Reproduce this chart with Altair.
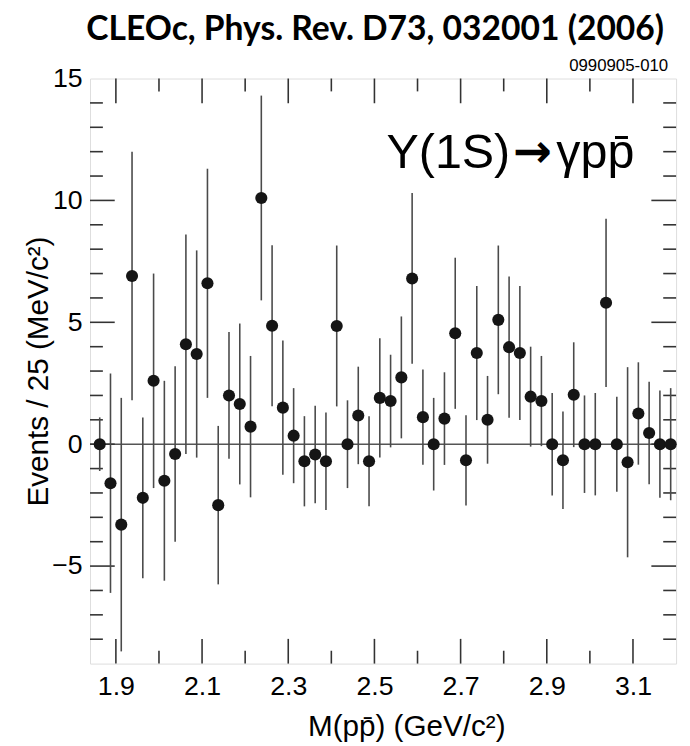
import pandas as pd
import altair as alt

# bin centres, GeV/c^2 (25 MeV bins)
mass = [1.8625, 1.8875, 1.9125, 1.9375, 1.9625, 1.9875, 2.0125, 2.0375, 2.0625,
        2.0875, 2.1125, 2.1375, 2.1625, 2.1875, 2.2125, 2.2375, 2.2625, 2.2875,
        2.3125, 2.3375, 2.3625, 2.3875, 2.4125, 2.4375, 2.4625, 2.4875, 2.5125,
        2.5375, 2.5625, 2.5875, 2.6125, 2.6375, 2.6625, 2.6875, 2.7125, 2.7375,
        2.7625, 2.7875, 2.8125, 2.8375, 2.8625, 2.8875, 2.9125, 2.9375, 2.9625,
        2.9875, 3.0125, 3.0375, 3.0625, 3.0875, 3.1125, 3.1375, 3.1625, 3.1875]
events = [0.0, -1.6, -3.3, 6.9, -2.2, 2.6, -1.5, -0.4, 4.1, 3.7, 6.6, -2.5, 2.0,
          1.65, 0.72, 10.1, 4.86, 1.5, 0.35, -0.7, -0.42, -0.7, 4.85, 0.0, 1.18,
          -0.7, 1.9, 1.77, 2.74, 6.8, 1.11, 0.0, 1.05, 4.55, -0.66, 3.74, 1.0,
          5.1, 3.98, 3.74, 1.95, 1.77, 0.0, -0.66, 2.03, 0.0, 0.0, 5.8, 0.0,
          -0.74, 1.26, 0.46, 0.0, 0.0]
err = [1.1, 4.5, 5.2, 5.1, 3.3, 4.4, 4.1, 3.6, 4.5, 4.25, 4.7, 3.25, 2.6,
       3.3, 2.9, 4.2, 3.3, 2.75, 1.95, 1.85, 2.0, 2.0, 3.3, 1.8, 2.0,
       1.85, 2.45, 1.9, 2.5, 3.5, 1.95, 1.9, 1.9, 3.1, 1.85, 2.75, 1.8,
       3.05, 2.9, 2.75, 2.05, 1.85, 2.1, 2.0, 2.15, 2.0, 2.1, 3.45, 1.95,
       3.9, 2.1, 2.1, 2.2, 2.3]

x_major = [1.9, 2.1, 2.3, 2.5, 2.7, 2.9, 3.1]
x_minor = [2.0, 2.2, 2.4, 2.6, 2.8, 3.0]
y_major = [-5, 0, 5, 10]
y_minor = [-8, -7, -6, -4, -3, -2, -1, 1, 2, 3, 4, 6, 7, 8, 9, 11, 12, 13, 14]

W, H = 593, 592
FONT = "Liberation Sans"

df = pd.DataFrame({"m": mass, "n": events, "e": err})
df["lo"] = df.n - df.e
df["hi"] = df.n + df.e

xs = alt.Scale(domain=[1.84, 3.2], nice=False, zero=False)
ys = alt.Scale(domain=[-9, 15], nice=False, zero=False)

base = alt.Chart(df)

bars = base.mark_rule(color="#4a4a4a", strokeWidth=1.6).encode(
    x=alt.X("m:Q", scale=xs,
            axis=alt.Axis(values=x_major, format=".1f", ticks=False, domain=False, grid=False,
                          labelFontSize=27, labelFont=FONT, labelColor="black", labelPadding=10,
                          title="M(pp\u0304) (GeV/c\u00b2)", titleFont=FONT, titleFontSize=30,
                          titleFontWeight="normal", titleColor="black",
                          titleX=320, titleY=73, titleBaseline="alphabetic")),
    y=alt.Y("lo:Q", scale=ys,
            axis=alt.Axis(values=[-5, 0, 5, 10, 15], ticks=False, domain=False, grid=False,
                          labelFontSize=27, labelFont=FONT, labelColor="black", labelPadding=8,
                          title="Events / 25 (MeV/c\u00b2)", titleFont=FONT, titleFontSize=30,
                          titleFontWeight="normal", titleColor="black",
                          titleX=-43, titleBaseline="alphabetic")),
    y2="hi:Q",
)

dots = base.mark_circle(size=150, color="#151515", opacity=1).encode(
    x=alt.X("m:Q", scale=xs), y=alt.Y("n:Q", scale=ys))

zero = alt.Chart(pd.DataFrame({"z": [0]})).mark_rule(color="#555555", strokeWidth=1.6).encode(
    y=alt.Y("z:Q", scale=ys))

# inward ticks on all four sides
xmj = pd.DataFrame({"t": x_major})
xmn = pd.DataFrame({"t": x_minor})
ymj = pd.DataFrame({"t": y_major})
ymn = pd.DataFrame({"t": y_minor})
tk = dict(color="#333333", strokeWidth=1.6)
ticks = [
    alt.Chart(xmj).mark_rule(**tk).encode(x=alt.X("t:Q", scale=xs), y=alt.value(H), y2=alt.value(H - 25)),
    alt.Chart(xmj).mark_rule(**tk).encode(x=alt.X("t:Q", scale=xs), y=alt.value(0), y2=alt.value(25)),
    alt.Chart(xmn).mark_rule(**tk).encode(x=alt.X("t:Q", scale=xs), y=alt.value(H), y2=alt.value(H - 13)),
    alt.Chart(xmn).mark_rule(**tk).encode(x=alt.X("t:Q", scale=xs), y=alt.value(0), y2=alt.value(13)),
    alt.Chart(ymj).mark_rule(**tk).encode(y=alt.Y("t:Q", scale=ys), x=alt.value(0), x2=alt.value(25)),
    alt.Chart(ymj).mark_rule(**tk).encode(y=alt.Y("t:Q", scale=ys), x=alt.value(W), x2=alt.value(W - 25)),
    alt.Chart(ymn).mark_rule(**tk).encode(y=alt.Y("t:Q", scale=ys), x=alt.value(0), x2=alt.value(13)),
    alt.Chart(ymn).mark_rule(**tk).encode(y=alt.Y("t:Q", scale=ys), x=alt.value(W), x2=alt.value(W - 13)),
]

one = pd.DataFrame({"a": [0]})
txt = dict(baseline="alphabetic", color="black")
decay = [
    alt.Chart(one).mark_text(text="\u03a5(1S)", font=FONT, fontSize=49, align="left", **txt).encode(
        x=alt.datum(2.528, scale=xs), y=alt.datum(11.35, scale=ys)),
    alt.Chart(one).mark_text(text="\u2192", font="DejaVu Sans", fontSize=47, fontWeight="bold",
                             align="center", dy=-1, **txt).encode(
        x=alt.datum(2.866, scale=xs), y=alt.datum(11.35, scale=ys)),
    alt.Chart(one).mark_text(text="\u03b3pp\u0304", font=FONT, fontSize=49, align="left", **txt).encode(
        x=alt.datum(2.922, scale=xs), y=alt.datum(11.35, scale=ys)),
]

stamp = alt.Chart(one).mark_text(
    text="0990905-010", font=FONT, fontSize=17, align="right", baseline="alphabetic",
    color="black").encode(x=alt.value(585), y=alt.value(-8))

chart = alt.layer(zero, *ticks, bars, dots, *decay, stamp).properties(
    width=W, height=H,
    title=alt.TitleParams("CLEOc, Phys. Rev. D73, 032001 (2006)", font="Lato", fontSize=34,
                          fontWeight="bold", color="black", anchor="middle", offset=10, dx=-8),
    autosize=alt.AutoSizeParams(type="none"),
    padding={"left": 83, "top": 67, "right": 6, "bottom": 78},
).configure_view(stroke="#222222", strokeWidth=2).configure(background="white")

chart.save("out.html", embed_options={"renderer": "svg", "actions": False})
